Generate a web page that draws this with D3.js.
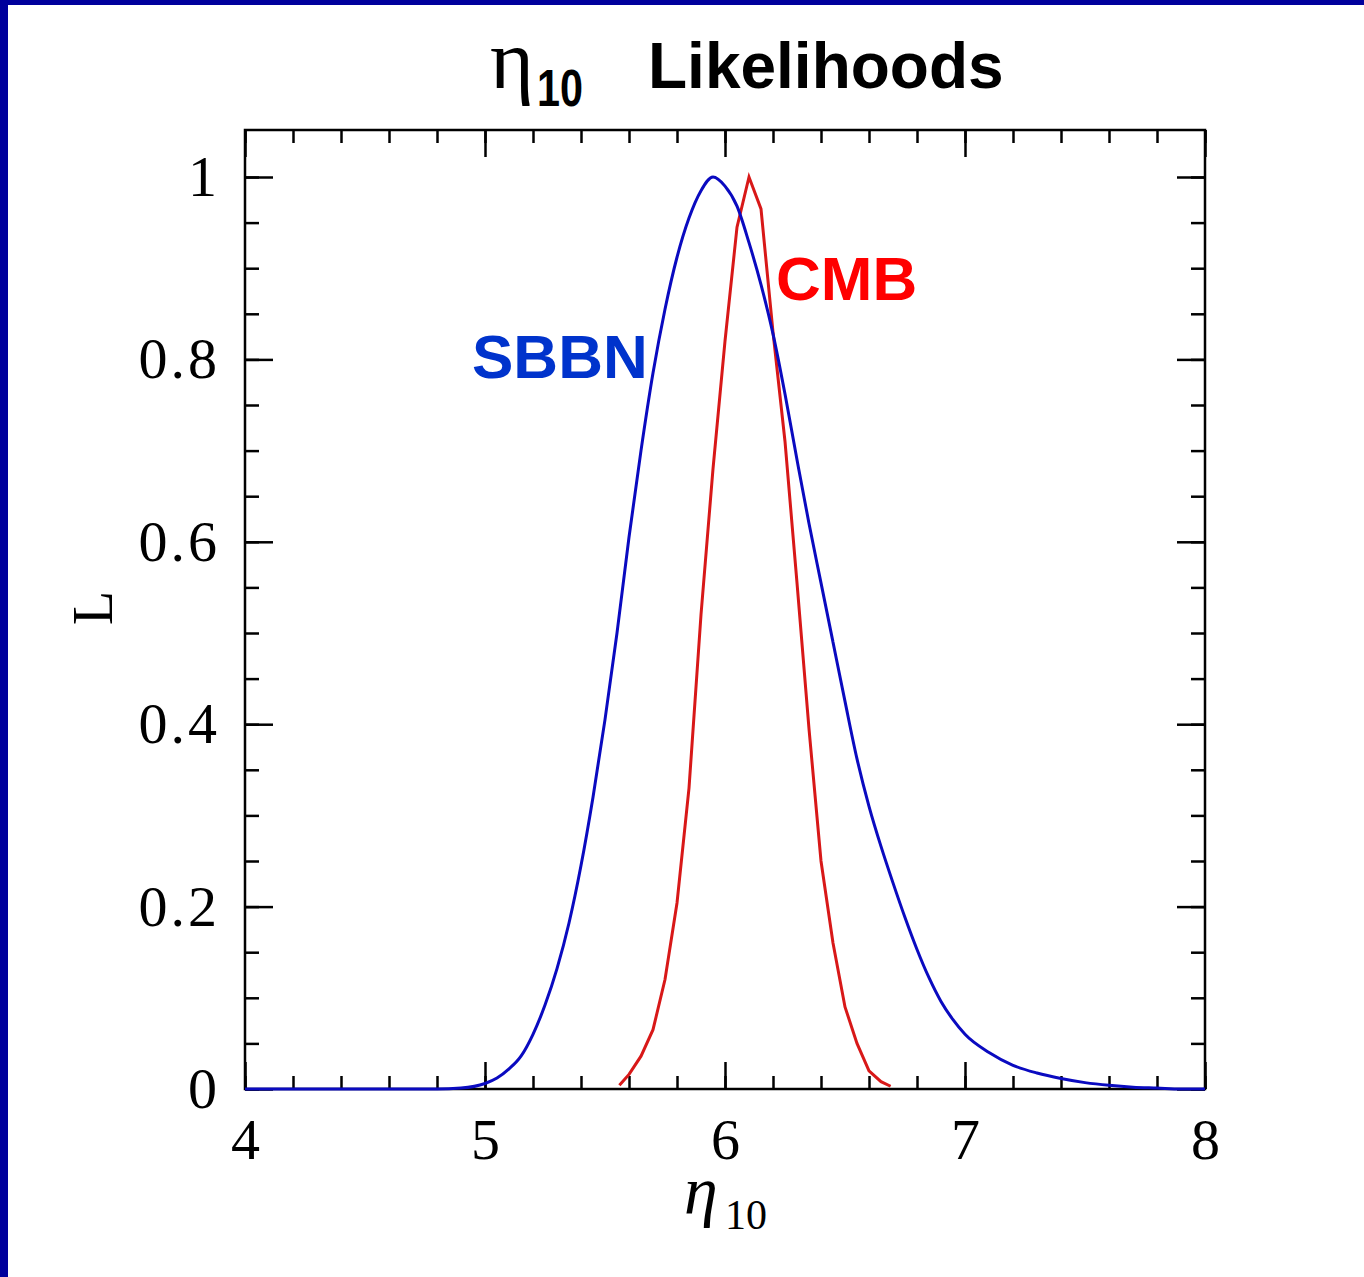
<!DOCTYPE html>
<html>
<head>
<meta charset="utf-8">
<script src="https://cdn.jsdelivr.net/npm/d3@7"></script>
<style>
  html, body { margin: 0; padding: 0; background: #fff; }
  svg { display: block; }
</style>
</head>
<body>
<script>
// η10 grid points and likelihood values for each curve
const sbbnEta = [4.0, 4.8, 4.9, 5.0, 5.05, 5.1, 5.15, 5.2, 5.25, 5.3, 5.35, 5.4, 5.45, 5.5, 5.55, 5.6, 5.65, 5.7, 5.75, 5.8, 5.85, 5.9, 5.95, 6.0, 6.05, 6.1, 6.15, 6.2, 6.25, 6.3, 6.35, 6.4, 6.45, 6.5, 6.55, 6.6, 6.65, 6.7, 6.75, 6.8, 6.85, 6.9, 6.95, 7.0, 7.1, 7.2, 7.3, 7.4, 7.5, 7.6, 7.7, 7.8, 7.9, 8.0];
const sbbnL   = [0, 0, 0.001, 0.006, 0.012, 0.022, 0.036, 0.06, 0.092, 0.132, 0.182, 0.245, 0.32, 0.405, 0.5, 0.605, 0.70, 0.785, 0.855, 0.912, 0.955, 0.985, 1.0, 0.99, 0.968, 0.928, 0.882, 0.828, 0.762, 0.69, 0.62, 0.555, 0.49, 0.425, 0.362, 0.31, 0.266, 0.226, 0.188, 0.153, 0.122, 0.096, 0.076, 0.06, 0.04, 0.026, 0.0175, 0.0115, 0.007, 0.004, 0.002, 0.001, 0, 0];

const cmbEta = [5.56, 5.6, 5.65, 5.7, 5.75, 5.8, 5.85, 5.9, 5.95, 6.0, 6.05, 6.1, 6.15, 6.2, 6.25, 6.3, 6.35, 6.4, 6.45, 6.5, 6.55, 6.6, 6.65, 6.69];
const cmbL   = [0.004, 0.016, 0.036, 0.065, 0.12, 0.204, 0.33, 0.52, 0.68, 0.82, 0.945, 1.0, 0.965, 0.83, 0.71, 0.555, 0.395, 0.25, 0.16, 0.09, 0.05, 0.02, 0.008, 0.003];

// axis ticks
const xMajor = [4, 5, 6, 7, 8];
const xMinor = d3.range(4, 8.0001, 0.2).map(v => +v.toFixed(2));
const yMajor = [0, 0.2, 0.4, 0.6, 0.8, 1];
const yMinor = d3.range(0, 1.0001, 0.05).map(v => +v.toFixed(2));

const W = 1364, H = 1277;
const plotLeft = 245, plotRight = 1205, plotTop = 130, plotBottom = 1089;

const svg = d3.select("body").append("svg").attr("width", W).attr("height", H);

// page background and blue page edge
svg.append("rect").attr("width", W).attr("height", H).attr("fill", "#fff");
svg.append("rect").attr("x", 0).attr("y", 0).attr("width", W).attr("height", 5).attr("fill", "#00009c");
svg.append("rect").attr("x", 0).attr("y", 0).attr("width", 8).attr("height", H).attr("fill", "#00009c");

const x = d3.scaleLinear().domain([4, 8]).range([plotLeft, plotRight]);
const y = d3.scaleLinear().domain([0, 1]).range([plotBottom, 177]);

const tickFont = "'Liberation Serif', 'Times New Roman', serif";
const sansFont = "'Liberation Sans', Arial, sans-serif";

function styleAxis(g) {
  g.select(".domain").remove();
  g.selectAll(".tick line").attr("stroke", "#000").attr("stroke-width", 2.5);
  g.selectAll(".tick text").attr("font-family", tickFont).attr("font-size", 58).attr("fill", "#000");
}

// bottom axis: majors with labels, minors without
svg.append("g").attr("transform", `translate(0,${plotBottom})`)
  .call(d3.axisBottom(x).tickValues(xMinor).tickSize(-13).tickFormat(""))
  .call(styleAxis);
svg.append("g").attr("transform", `translate(0,${plotBottom})`)
  .call(d3.axisBottom(x).tickValues(xMajor).tickSize(-27).tickPadding(29).tickFormat(d3.format("d")))
  .call(styleAxis);
// top axis mirrored
svg.append("g").attr("transform", `translate(0,${plotTop})`)
  .call(d3.axisTop(x).tickValues(xMinor).tickSize(-13).tickFormat(""))
  .call(styleAxis);
svg.append("g").attr("transform", `translate(0,${plotTop})`)
  .call(d3.axisTop(x).tickValues(xMajor).tickSize(-27).tickFormat(""))
  .call(styleAxis);

// left axis
svg.append("g").attr("transform", `translate(${plotLeft},0)`)
  .call(d3.axisLeft(y).tickValues(yMinor).tickSize(-14).tickFormat(""))
  .call(styleAxis);
svg.append("g").attr("transform", `translate(${plotLeft},0)`)
  .call(d3.axisLeft(y).tickValues(yMajor).tickSize(-28).tickPadding(25).tickFormat(d => d === 0 || d === 1 ? d3.format("d")(d) : d3.format(".1f")(d)))
  .call(styleAxis)
  .call(g => g.selectAll(".tick text").attr("letter-spacing", 3));
// right axis mirrored
svg.append("g").attr("transform", `translate(${plotRight},0)`)
  .call(d3.axisRight(y).tickValues(yMinor).tickSize(-14).tickFormat(""))
  .call(styleAxis);
svg.append("g").attr("transform", `translate(${plotRight},0)`)
  .call(d3.axisRight(y).tickValues(yMajor).tickSize(-28).tickFormat(""))
  .call(styleAxis);

// plot frame
svg.append("rect")
  .attr("x", plotLeft).attr("y", plotTop)
  .attr("width", plotRight - plotLeft).attr("height", plotBottom - plotTop)
  .attr("fill", "none").attr("stroke", "#000").attr("stroke-width", 2.5);

// likelihood curves
const line = d3.line().x(d => x(d[0])).y(d => y(d[1]));

svg.append("path")
  .datum(d3.zip(cmbEta, cmbL))
  .attr("d", line)
  .attr("fill", "none").attr("stroke", "#d81818").attr("stroke-width", 3);

svg.append("path")
  .datum(d3.zip(sbbnEta, sbbnL))
  .attr("d", line.curve(d3.curveMonotoneX))
  .attr("fill", "none").attr("stroke", "#0a0ac0").attr("stroke-width", 3);

// curve labels
svg.append("text").attr("x", 472).attr("y", 378)
  .attr("font-family", sansFont).attr("font-weight", "bold")
  .attr("font-size", 62).attr("fill", "#0033cc").text("SBBN");
svg.append("text").attr("x", 776).attr("y", 300)
  .attr("font-family", sansFont).attr("font-weight", "bold")
  .attr("font-size", 62).attr("fill", "#ff0000").text("CMB");

// title
svg.append("text").attr("x", 490).attr("y", 88)
  .attr("font-family", tickFont).attr("font-size", 84).attr("fill", "#000").text("η");
svg.append("text").attr("x", 537).attr("y", 106)
  .attr("font-family", sansFont).attr("font-weight", "bold")
  .attr("font-size", 51).attr("textLength", 46).attr("lengthAdjust", "spacingAndGlyphs")
  .attr("fill", "#000").text("10");
svg.append("text").attr("x", 648).attr("y", 88)
  .attr("font-family", sansFont).attr("font-weight", "bold")
  .attr("font-size", 64).attr("fill", "#000").text("Likelihoods");

// axis titles
svg.append("text").attr("x", 684).attr("y", 1214)
  .attr("font-family", tickFont).attr("font-style", "italic")
  .attr("font-size", 68).attr("fill", "#000").text("η");
svg.append("text").attr("x", 725).attr("y", 1229)
  .attr("font-family", tickFont).attr("font-size", 42).attr("fill", "#000").text("10");

svg.append("text")
  .attr("transform", "translate(112,608) rotate(-90)")
  .attr("text-anchor", "middle")
  .attr("font-family", tickFont).attr("font-size", 56).attr("fill", "#000").text("L");
</script>
</body>
</html>
